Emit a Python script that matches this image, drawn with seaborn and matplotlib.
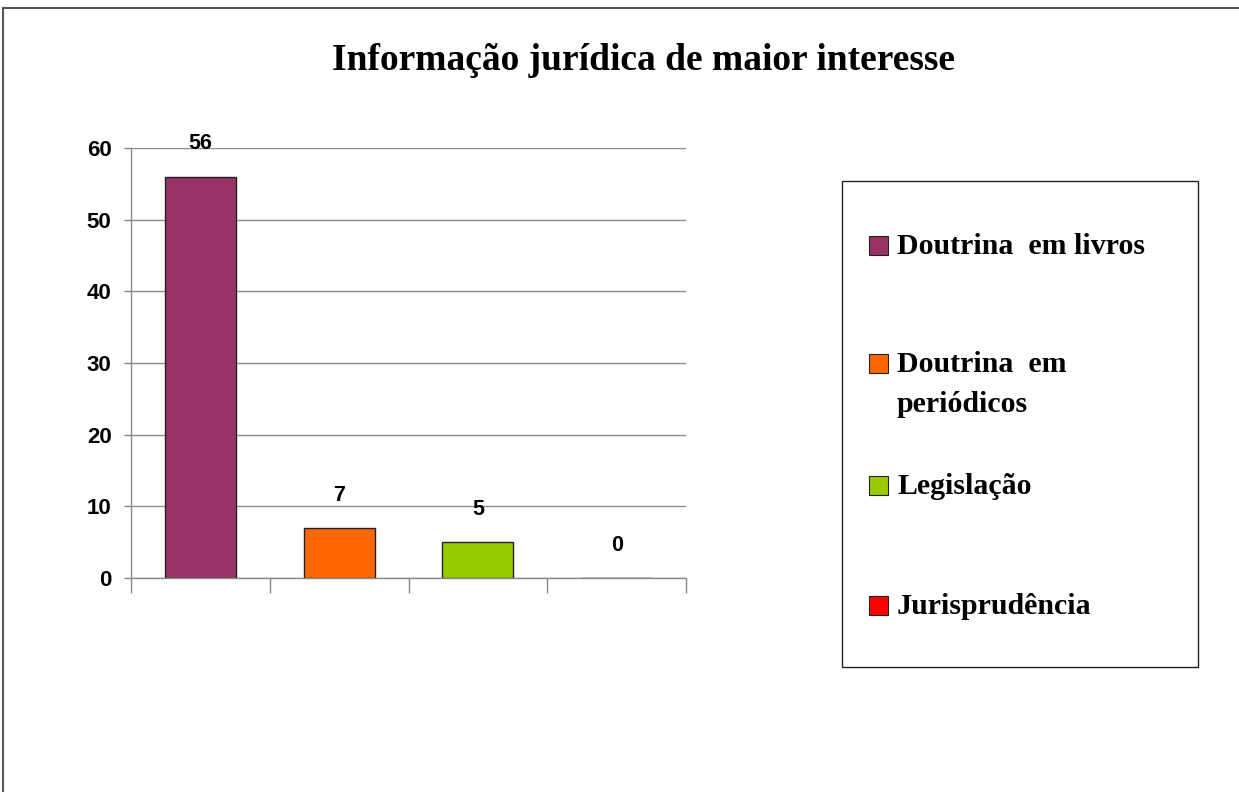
import matplotlib
matplotlib.use("Agg")
import matplotlib.pyplot as plt
import seaborn as sns
from matplotlib.patches import Rectangle

# Data
categories = ["Doutrina  em livros", "Doutrina  em\nperiódicos", "Legislação", "Jurisprudência"]
values = [56, 7, 5, 0]
colors = ["#993366", "#FF6600", "#99CC00", "#FF0000"]
title = "Informação jurídica de maior interesse"
yticks = [0, 10, 20, 30, 40, 50, 60]

sns.set_style("white")
plt.rcParams["font.family"] = ["Liberation Sans", "DejaVu Sans"]
plt.rcParams["text.color"] = "black"
plt.rcParams["ytick.labelcolor"] = "black"

fig = plt.figure(figsize=(12.39, 7.92), dpi=100)
ax = fig.add_axes([131 / 1239, 1 - 578 / 792, (686 - 131) / 1239, 430 / 792])

sns.barplot(x=categories, y=values, hue=categories,
            palette=colors, legend=False, width=0.51, edgecolor="#222222",
            linewidth=1.0, saturation=1, ax=ax)

ax.set_xlim(-0.5, 3.5)
ax.set_ylim(0, 60)
ax.set_yticks(yticks)
ax.set_yticklabels([str(t) for t in yticks], fontweight="bold", fontsize=16, color="black")
ax.set_xticks([])
ax.set_xticks([-0.5, 0.5, 1.5, 2.5, 3.5], minor=True)
ax.tick_params(axis="x", which="minor", length=11, width=1, color="#888888", direction="out", bottom=True)
ax.tick_params(axis="y", length=5, width=1, color="#888888", direction="out", pad=9, left=True)
ax.set_xlabel("")
ax.set_ylabel("")

ax.grid(axis="y", color="#8c8c8c", linewidth=1)
ax.set_axisbelow(True)
for side in ["top", "right"]:
    ax.spines[side].set_visible(False)
for side in ["left", "bottom"]:
    ax.spines[side].set_color("#8c8c8c")
    ax.spines[side].set_linewidth(1)

# value labels above each bar
for i, v in enumerate(values):
    ax.annotate(str(v), (i, v), xytext=(0, 16), textcoords="offset points",
                ha="center", va="bottom", fontweight="bold", fontsize=15.5, color="black")

fig.text(644 / 1239, 1 - 60 / 792, title, ha="center", va="center", color="black",
         fontsize=27, fontweight="bold", family=["Liberation Serif", "DejaVu Serif"])

# legend box drawn by hand
fig.patches.append(Rectangle((842 / 1239, 1 - 667 / 792), (1198 - 842) / 1239, (667 - 181) / 792,
                             transform=fig.transFigure, fill=False, edgecolor="#222222", linewidth=1))
legend_y = [246, 364, 486, 606]
for cat, col, yy in zip(categories, colors, legend_y):
    fig.patches.append(Rectangle((869 / 1239, 1 - (yy + 9) / 792), 19 / 1239, 19 / 792,
                                 transform=fig.transFigure, facecolor=col,
                                 edgecolor="#222222", linewidth=0.8))
    fig.text(897 / 1239, 1 - (yy - 13) / 792, cat, ha="left", va="top", fontsize=21.5,
             color="black", fontweight="bold", family=["Liberation Serif", "DejaVu Serif"],
             linespacing=1.6)

# outer frame (cut off at right and bottom)
fig.patches.append(Rectangle((3 / 1239, -0.1), 1.2, 1 - 8 / 792 + 0.1, transform=fig.transFigure,
                             fill=False, edgecolor="#555555", linewidth=1.5))

fig.savefig("out.png", dpi=100)
